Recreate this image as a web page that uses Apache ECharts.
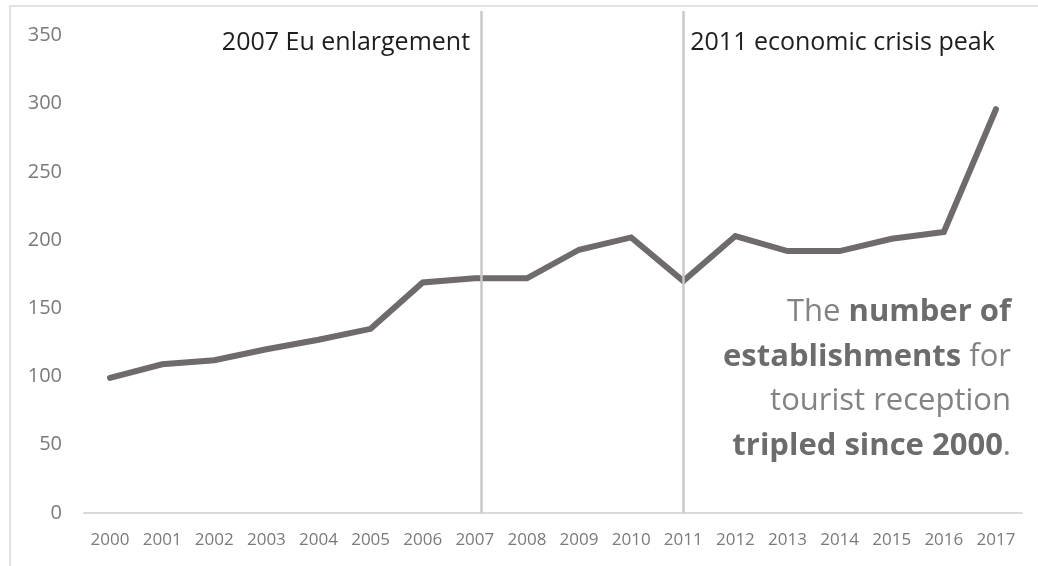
<!DOCTYPE html>
<html>
<head>
<meta charset="utf-8">
<title>Establishments for tourist reception, 2000–2017</title>
<script src="https://cdn.jsdelivr.net/npm/echarts@6/dist/echarts.min.js"></script>
<style>
  html, body { margin: 0; padding: 0; background: #ffffff; }
  #wrap { position: relative; width: 1038px; height: 566px; overflow: hidden; }
  #frame { position: absolute; left: 9px; top: 5px; width: 1100px; height: 600px;
           border-left: 2px solid #e2e2e2; border-top: 2px solid #e2e2e2; box-sizing: border-box; }
  #chart { position: absolute; left: 0; top: 0; width: 1038px; height: 566px; }
</style>
</head>
<body>
<div id="wrap">
  <div id="frame"></div>
  <div id="chart"></div>
</div>
<script>
// Years on the horizontal axis
const years = ['2000','2001','2002','2003','2004','2005','2006','2007','2008',
               '2009','2010','2011','2012','2013','2014','2015','2016','2017'];
// Number of establishments for tourist reception
const establishments = [99, 109, 112, 120, 127, 135, 169, 172, 172,
                        193, 202, 170, 203, 192, 192, 201, 206, 296];
// Vertical-axis tick values
const yTicks = [0, 50, 100, 150, 200, 250, 300, 350];
// Event markers: position on the year scale (index units) and caption
const eventPositions = [7.12, 11.0];
const eventCaptions = ['2007 Eu enlargement', '2011 economic crisis peak'];
// Closing remark, line by line: [regular part, bold part, regular tail]
const noteLines = [
  ['The ', 'number of', ''],
  ['', 'establishments', ' for'],
  ['tourist reception', '', ''],
  ['', 'tripled since 2000', '.']
];

const FONT = '"Open Sans", "Noto Sans", sans-serif';
const yStep = yTicks[1] - yTicks[0];
const yTop = yTicks[yTicks.length - 1];

const chart = echarts.init(document.getElementById('chart'), null, { renderer: 'canvas' });

const option = {
  animation: false,
  backgroundColor: 'transparent',
  grid: { left: 84, right: 16, top: 11, bottom: 53, containLabel: false },
  xAxis: [
    {
      type: 'category',
      data: years,
      boundaryGap: true,
      axisLine: { show: true, lineStyle: { color: '#dadada', width: 2 } },
      axisTick: { show: false },
      axisLabel: { color: '#7a7a7a', fontFamily: FONT, fontSize: 17, margin: 19, interval: 0 },
      splitLine: { show: false }
    },
    {
      // index scale used to place the event markers
      type: 'value',
      min: -0.5,
      max: years.length - 0.5,
      show: false,
      position: 'top'
    }
  ],
  yAxis: {
    type: 'value',
    min: 0,
    max: yTop + 18,
    interval: yStep,
    axisLine: { show: false },
    axisTick: { show: false },
    splitLine: { show: false },
    axisLabel: { color: '#7a7a7a', fontFamily: FONT, fontSize: 20, margin: 22, showMaxLabel: false,
                 formatter: v => (yTicks.indexOf(v) >= 0 ? String(v) : '') }
  },
  series: [
    {
      type: 'line',
      xAxisIndex: 1,
      data: [],
      silent: true,
      markLine: {
        silent: true,
        symbol: ['none', 'none'],
        label: { show: false },
        lineStyle: { color: '#c9c9c9', width: 2.5, type: 'solid' },
        data: eventPositions.map(p => ({ xAxis: p }))
      }
    },
    {
      type: 'line',
      xAxisIndex: 0,
      data: establishments,
      symbol: 'none',
      lineStyle: { color: '#6f6a6c', width: 6, cap: 'round', join: 'miter' },
      z: 3
    }
  ]
};
chart.setOption(option);

// Captions next to the event markers, placed from the index scale
const topY = chart.convertToPixel({ yAxisIndex: 0 }, yTop);
const ex = eventPositions.map(p => chart.convertToPixel({ xAxisIndex: 1 }, p));

const rich = {
  r: { fontFamily: FONT, fontSize: 31, fill: '#838383', fontWeight: 'normal' },
  b: { fontFamily: FONT, fontSize: 31, fill: '#6c6c6c', fontWeight: 'bold' }
};
const noteText = noteLines.map(l => {
  let s = '';
  if (l[0]) s += '{r|' + l[0] + '}';
  if (l[1]) s += '{b|' + l[1] + '}';
  if (l[2]) s += '{r|' + l[2] + '}';
  return s;
}).join('\n');

chart.setOption({
  graphic: [
    {
      type: 'text', x: ex[0] - 11, y: topY + 7, silent: true,
      style: { text: eventCaptions[0], align: 'right', verticalAlign: 'middle',
               fontFamily: FONT, fontSize: 25, fill: '#1e1e1e' }
    },
    {
      type: 'text', x: ex[1] + 7, y: topY + 7, silent: true,
      style: { text: eventCaptions[1], align: 'left', verticalAlign: 'middle',
               fontFamily: FONT, fontSize: 25, fill: '#1e1e1e' }
    },
    {
      type: 'text', x: 1011, y: 290, silent: true,
      style: { text: noteText, align: 'right', verticalAlign: 'top',
               lineHeight: 44.5, rich: rich }
    }
  ]
});
</script>
</body>
</html>
